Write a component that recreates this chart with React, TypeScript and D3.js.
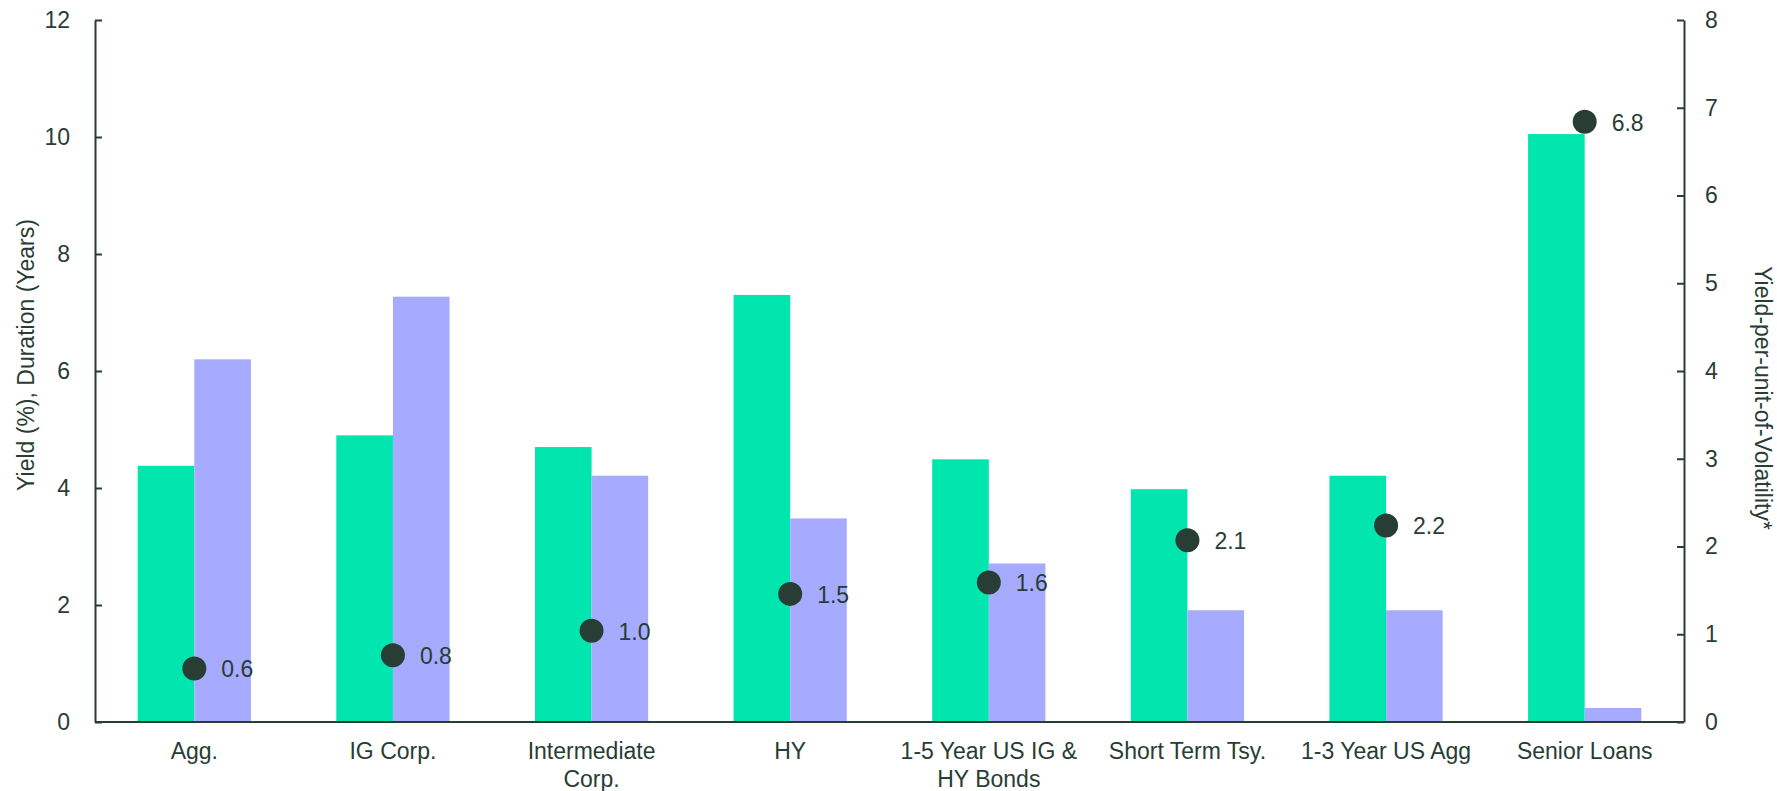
import React, { useEffect, useRef } from 'react';
import * as d3 from 'd3';

const categories = [
  'Agg.',
  'IG Corp.',
  'Intermediate\nCorp.',
  'HY',
  '1-5 Year US IG &\nHY Bonds',
  'Short Term Tsy.',
  '1-3 Year US Agg',
  'Senior Loans',
];

// left axis series
const yieldValues = [4.38, 4.9, 4.7, 7.3, 4.49, 3.98, 4.21, 10.05];
const durationValues = [6.2, 7.27, 4.21, 3.48, 2.71, 1.91, 1.91, 0.24];

// right axis series
const yieldPerVol = [0.61, 0.76, 1.04, 1.46, 1.59, 2.07, 2.24, 6.84];

const leftTicks = [0, 2, 4, 6, 8, 10, 12];
const rightTicks = [0, 1, 2, 3, 4, 5, 6, 7, 8];

const GREEN = '#00E6AE';
const PURPLE = '#A6ABFF';
const DARK = '#283D33';
const FONT = '"Liberation Sans", Arial, sans-serif';
const FS = '23px';

const W = 1777;
const H = 791;

export default function App() {
  const svgRef = useRef<SVGSVGElement>(null);

  useEffect(() => {
    if (!svgRef.current) return;
    const svg = d3.select(svgRef.current);
    svg.selectAll('*').remove();

    const margin = { top: 20, right: 93, bottom: 69, left: 95 };
    const innerW = W - margin.left - margin.right;
    const innerH = H - margin.top - margin.bottom;

    const g = svg.append('g').attr('transform', `translate(${margin.left},${margin.top})`);

    const x = d3.scaleBand<string>().domain(categories).range([0, innerW]).padding(0);
    const yL = d3.scaleLinear().domain([0, 12]).range([innerH, 0]);
    const yR = d3.scaleLinear().domain([0, 8]).range([innerH, 0]);
    const barW = x.step() * 0.285;
    const cx = (c: string) => (x(c) as number) + x.bandwidth() / 2;

    // 收益率柱
    g.selectAll('.bar-yield')
      .data(categories)
      .enter()
      .append('rect')
      .attr('x', d => cx(d) - barW)
      .attr('y', (d, i) => yL(yieldValues[i]))
      .attr('width', barW)
      .attr('height', (d, i) => innerH - yL(yieldValues[i]))
      .attr('fill', GREEN);

    // 久期柱
    g.selectAll('.bar-dur')
      .data(categories)
      .enter()
      .append('rect')
      .attr('x', d => cx(d))
      .attr('y', (d, i) => yL(durationValues[i]))
      .attr('width', barW)
      .attr('height', (d, i) => innerH - yL(durationValues[i]))
      .attr('fill', PURPLE);

    // left axis, ticks pointing inward
    const leftAxis = g.append('g').call(
      d3.axisLeft(yL).tickValues(leftTicks).tickSizeInner(-7).tickSizeOuter(0).tickPadding(25)
    );
    const rightAxis = g.append('g').attr('transform', `translate(${innerW},0)`).call(
      d3.axisRight(yR).tickValues(rightTicks).tickSizeInner(-7).tickSizeOuter(0).tickPadding(21)
    );
    [leftAxis, rightAxis].forEach(a => {
      a.select('.domain').attr('stroke', DARK).attr('stroke-width', 2);
      a.selectAll('.tick line').attr('stroke', DARK).attr('stroke-width', 2);
      a.selectAll('.tick text')
        .attr('fill', DARK)
        .style('font-family', FONT)
        .style('font-size', FS);
    });

    // baseline
    g.append('line')
      .attr('x1', 0)
      .attr('x2', innerW)
      .attr('y1', innerH)
      .attr('y2', innerH)
      .attr('stroke', DARK)
      .attr('stroke-width', 2);

    // category labels
    categories.forEach(c => {
      const t = g.append('text')
        .attr('x', cx(c))
        .attr('y', innerH + 37)
        .attr('text-anchor', 'middle')
        .attr('fill', DARK)
        .style('font-family', FONT)
        .style('font-size', FS);
      c.split('\n').forEach((line, li) => {
        t.append('tspan').attr('x', cx(c)).attr('dy', li === 0 ? 0 : 28).text(line);
      });
    });

    // yield-per-unit-of-volatility dots
    g.selectAll('.dot')
      .data(categories)
      .enter()
      .append('circle')
      .attr('cx', d => cx(d))
      .attr('cy', (d, i) => yR(yieldPerVol[i]))
      .attr('r', 12)
      .attr('fill', DARK);

    g.selectAll('.dot-label')
      .data(categories)
      .enter()
      .append('text')
      .attr('x', d => cx(d) + 27)
      .attr('y', (d, i) => yR(yieldPerVol[i]) + 9)
      .attr('fill', DARK)
      .style('font-family', FONT)
      .style('font-size', FS)
      .text((d, i) => yieldPerVol[i].toFixed(1));

    // axis titles
    svg.append('text')
      .attr('transform', `translate(26,355) rotate(-90)`)
      .attr('text-anchor', 'middle')
      .attr('dominant-baseline', 'central')
      .attr('fill', DARK)
      .style('font-family', FONT)
      .style('font-size', FS)
      .text('Yield (%), Duration (Years)');

    svg.append('text')
      .attr('transform', `translate(1763,398) rotate(90)`)
      .attr('text-anchor', 'middle')
      .attr('dominant-baseline', 'central')
      .attr('fill', DARK)
      .style('font-family', FONT)
      .style('font-size', FS)
      .text('Yield-per-unit-of-Volatility*');
  }, []);

  return (
    <svg
      ref={svgRef}
      width={W}
      height={H}
      style={{ position: 'absolute', left: 0, top: 0, display: 'block', background: '#fff' }}
    />
  );
}
